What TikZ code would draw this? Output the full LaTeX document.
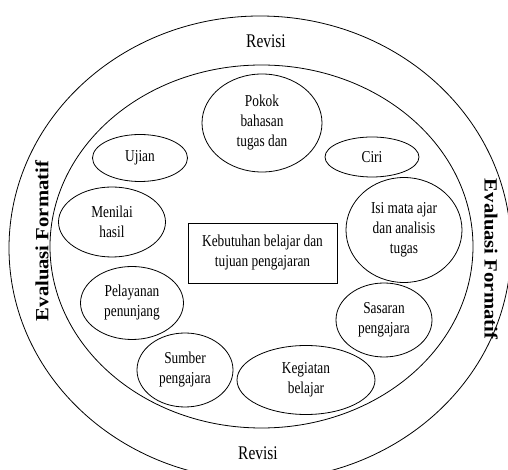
\documentclass[tikz,border=0pt]{standalone}
\usepackage{graphicx}
\usepackage{fontspec}
\setmainfont{Liberation Serif}[FakeStretch=0.8]
\newfontfamily\evalfont{Liberation Serif}
\usetikzlibrary{shapes.geometric}

\begin{document}
\begin{tikzpicture}[x=.75pt, y=-.75pt, line width=.6pt,
		item/.style={draw, ellipse, align=center, inner sep=0pt, font=\fontsize{12.5}{15}\selectfont},
		revisi/.style={anchor=base, font=\fontsize{14.5}{17}\selectfont},
		evaluasi/.style={font=\evalfont\bfseries\fontsize{15.5}{18}\selectfont}]
		\useasboundingbox(0, 0) rectangle (508, 470);
		\clip(0, 0) rectangle (508, 470);
		\draw(260, 248) ellipse [x radius=251, y radius=232];
		\draw(261.5, 246.5) ellipse [x radius=211.5, y radius=181.5];
		\node[revisi] (revisiatas) at(266, 48){Revisi};
		\node[revisi] (revisibawah) at(258, 460){Revisi};
		\node[evaluasi, rotate=90] (evalkiri) at(42, 241){\scalebox{1}[.9]{Evaluasi Formatif}};
		\node[evaluasi, rotate=-90] (evalkanan) at(491, 259){\scalebox{1}[.9]{Evaluasi Formatif}};
		\node[item, minimum width=90pt, minimum height=73.5pt] (pokok) at(262, 123){Pokok\\bahasan\\tugas dan};
		\node[item, minimum width=70.5pt, minimum height=30pt] (ciri) at(372, 157){Ciri};
		\node[item, minimum width=71.25pt, minimum height=35.25pt] (ujian) at(140, 158){Ujian};
		\node[item, minimum width=80.25pt, minimum height=52.5pt] (menilai) at(112, 222){Menilai\\hasil};
		\node[item, minimum width=87pt, minimum height=78.75pt] (isi) at(404, 230){Isi mata ajar\\dan analisis\\tugas};
		\node[item, minimum width=77.25pt, minimum height=54.75pt] (pelayanan) at(132, 303){Pelayanan\\penunjang};
		\node[item, minimum width=72pt, minimum height=55.5pt] (sasaran) at(384, 320){Sasaran\\pengajara};
		\node[item, minimum width=72pt, minimum height=55.5pt] (sumber) at(185, 370){Sumber\\pengajara};
		\node[item, minimum width=103.5pt, minimum height=51.75pt] (kegiatan) at(306, 380){Kegiatan\\belajar};
		\node[draw, align=center, minimum width=111.75pt, minimum height=45pt, font=\fontsize{12.5}{15}\selectfont] (kebutuhan) at(262.5, 253){Kebutuhan belajar dan\\tujuan pengajaran};
	\end{tikzpicture}
\end{document}
